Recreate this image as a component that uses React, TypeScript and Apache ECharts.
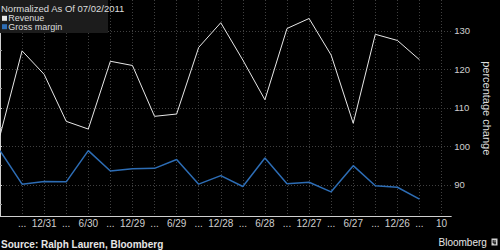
import React, { useEffect, useRef } from "react";
import * as echarts from "echarts";

const categories = ["", "...", "12/31", "...", "6/30", "...", "12/29", "...", "6/29", "...", "12/28", "...", "6/28", "...", "12/27", "...", "6/27", "...", "12/26", "...", "10"];
const revenue = [102.8, 124.8, 118.7, 106.5, 104.5, 122.1, 121.0, 107.8, 108.4, 125.7, 132.1, 122.4, 112.1, 130.6, 133.2, 123.7, 106.0, 129.1, 127.5, 122.5];
const grossMargin = [98.9, 90.2, 90.9, 90.8, 98.9, 93.6, 94.2, 94.3, 96.6, 90.2, 92.4, 89.6, 97.0, 90.3, 90.7, 88.2, 95.0, 89.8, 89.4, 86.3];
const seriesNames = ["Revenue", "Gross margin"];
const seriesColors = ["#e8e8e8", "#2d6db5"];
const titleText = "Normalized As Of 07/02/2011";
const sourceText = "Source: Ralph Lauren, Bloomberg";
const yAxisName = "percentage change";

const NARROW = "'Liberation Sans Narrow', 'Liberation Sans', Arial, sans-serif";
const SANS = "'Liberation Sans', Arial, sans-serif";

export default function App() {
  const ref = useRef<HTMLDivElement>(null);
  useEffect(() => {
    if (!ref.current) return;
    const chart = echarts.init(ref.current, undefined, { renderer: "svg" });
    const isInt = (v: number) => Math.abs(v - Math.round(v)) < 1e-6;
    chart.setOption({
      animation: false,
      backgroundColor: "#000",
      grid: { left: 0, right: 33.5, top: 0, bottom: 33.5, containLabel: false },
      xAxis: {
        type: "value",
        min: 0,
        max: 20.44,
        interval: 1,
        axisLine: { show: true, lineStyle: { color: "#cfcfcf", width: 1 } },
        axisTick: { show: false },
        axisLabel: {
          color: "#cfcfcf",
          fontSize: 10,
          fontFamily: SANS,
          margin: 2,
          showMinLabel: false,
          formatter: (v: number) => (isInt(v) ? categories[Math.round(v)] ?? "" : ""),
        },
        splitLine: { show: true, showMinLine: false, showMaxLine: false, lineStyle: { color: "#404040", type: [1, 2], width: 1 } },
      },
      yAxis: {
        type: "value",
        position: "right",
        min: 81.8,
        max: 138,
        splitNumber: 5,
        name: yAxisName,
        nameLocation: "middle",
        nameRotate: -90,
        nameGap: 25,
        nameTextStyle: { color: "#dcdcdc", fontSize: 11, fontFamily: SANS },
        axisLine: { show: true, lineStyle: { color: "#cfcfcf", width: 1 } },
        axisTick: { show: true, length: 2, lineStyle: { color: "#cfcfcf" } },
        minorTick: { show: true, splitNumber: 2, length: 2, lineStyle: { color: "#9a9a9a" } },
        axisLabel: {
          color: "#cfcfcf",
          fontSize: 9.5,
          fontFamily: SANS,
          margin: 3,
          formatter: (v: number) => (Math.abs(v / 10 - Math.round(v / 10)) < 1e-6 ? String(Math.round(v)) : ""),
        },
        splitLine: { show: true, showMinLine: false, showMaxLine: false, lineStyle: { color: "#404040", type: [1, 2], width: 1 } },
      },
      series: [
        {
          name: seriesNames[0],
          type: "line",
          data: revenue.map((v, i) => [i, v]),
          symbol: "none",
          lineStyle: { color: seriesColors[0], width: 1 },
          itemStyle: { color: seriesColors[0] },
        },
        {
          name: seriesNames[1],
          type: "line",
          data: grossMargin.map((v, i) => [i, v]),
          symbol: "none",
          lineStyle: { color: seriesColors[1], width: 1.5 },
          itemStyle: { color: seriesColors[1] },
        },
      ],
      graphic: [
        { type: "rect", shape: { x: 0, y: 0, width: 108, height: 33 }, style: { fill: "#1c1c1c" }, z: 100 },
        { type: "text", x: 1, y: 8.3, style: { text: titleText, fill: "#dcdcdc", fontSize: 9.5, fontFamily: NARROW, verticalAlign: "middle", align: "left" }, z: 101 },
        { type: "rect", shape: { x: 2, y: 15.8, width: 5, height: 5 }, style: { fill: seriesColors[0] }, z: 101 },
        { type: "text", x: 8.3, y: 17.9, style: { text: seriesNames[0], fill: "#dcdcdc", fontSize: 9, fontFamily: NARROW, verticalAlign: "middle", align: "left" }, z: 101 },
        { type: "rect", shape: { x: 2, y: 24.2, width: 5, height: 5 }, style: { fill: seriesColors[1] }, z: 101 },
        { type: "text", x: 8.3, y: 26.9, style: { text: seriesNames[1], fill: "#dcdcdc", fontSize: 9, fontFamily: NARROW, verticalAlign: "middle", align: "left" }, z: 101 },
        { type: "text", x: 1, y: 244.5, style: { text: sourceText, fill: "#e6e6e6", fontSize: 10, fontWeight: "bold", fontFamily: NARROW, verticalAlign: "middle", align: "left" }, z: 101 },
        { type: "text", x: 438.5, y: 242, style: { text: "Bloomberg", fill: "#e6e6e6", fontSize: 10, fontFamily: SANS, verticalAlign: "middle", align: "left" }, z: 101 },
        { type: "rect", shape: { x: 491.5, y: 238.5, width: 6, height: 7 }, style: { fill: "#cfcfcf" }, z: 101 },
        { type: "polyline", shape: { points: [[493.2, 240], [493.2, 243], [496, 243]] }, style: { stroke: "#000", lineWidth: 1, fill: "none" }, z: 102 },
        { type: "line", shape: { x1: 495, y1: 240, x2: 495, y2: 244.5 }, style: { stroke: "#000", lineWidth: 1 }, z: 102 },
      ],
    });
    return () => chart.dispose();
  }, []);
  return (
    <div
      ref={ref}
      style={{ position: "fixed", left: 0, top: 0, width: 500, height: 250, background: "#000" }}
    />
  );
}
